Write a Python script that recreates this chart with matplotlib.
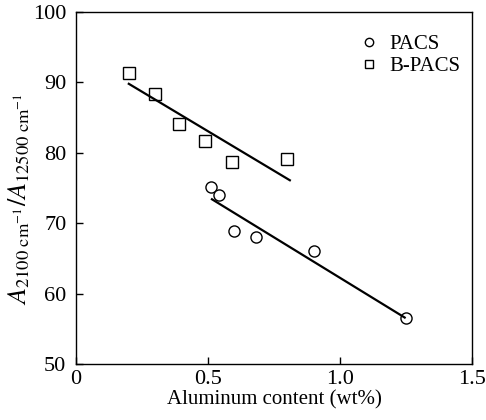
import matplotlib
matplotlib.use("Agg")
import matplotlib.pyplot as plt

plt.rcParams['font.family'] = ['Liberation Serif', 'DejaVu Serif']
plt.rcParams['mathtext.fontset'] = 'stix'

# --- data ---
pacs_x = [0.51, 0.54, 0.60, 0.68, 0.90, 1.25]
pacs_y = [75.1, 74.0, 68.9, 68.0, 66.0, 56.5]
bpacs_x = [0.20, 0.30, 0.39, 0.49, 0.59, 0.80]
bpacs_y = [91.3, 88.4, 84.1, 81.7, 78.7, 79.1]

# fitted trend lines (endpoints)
pacs_fit_x = [0.515, 1.245]
pacs_fit_y = [73.4, 56.6]
bpacs_fit_x = [0.20, 0.81]
bpacs_fit_y = [89.8, 76.1]

xticks = [0, 0.5, 1.0, 1.5]
xticklabels = ['0', '0.5', '1.0', '1.5']
yticks = [50, 60, 70, 80, 90, 100]

fig = plt.figure(figsize=(4.86, 4.2), dpi=100)
ax = fig.add_axes([76 / 486, 1 - 364 / 420, 396 / 486, 352 / 420])

ax.plot(pacs_x, pacs_y, 'o', ms=8, mfc='white', mec='black', mew=1.0, label='PACS')
ax.plot(bpacs_x, bpacs_y, 's', ms=8, mfc='white', mec='black', mew=1.0, label='B-PACS')
ax.plot(pacs_fit_x, pacs_fit_y, 'k-', lw=1.6)
ax.plot(bpacs_fit_x, bpacs_fit_y, 'k-', lw=1.6)

ax.set_xlim(0, 1.5)
ax.set_ylim(50, 100)
ax.set_xticks(xticks)
ax.set_xticklabels(xticklabels)
ax.set_yticks(yticks)
ax.tick_params(direction='in', length=5, width=1.0, labelsize=16)
ax.tick_params(axis='x', pad=4)
ax.tick_params(axis='y', pad=7)
for s in ax.spines.values():
    s.set_linewidth(1.0)

ax.set_xlabel('Aluminum content (wt%)', fontsize=15, labelpad=1)
ax.set_ylabel(r'$A_{2100\ \mathrm{cm}^{-1}}/A_{12500\ \mathrm{cm}^{-1}}$', fontsize=19)
ax.yaxis.set_label_coords(-0.11, 0.47)

ax.legend(loc='upper right', bbox_to_anchor=(1.008, 0.977), frameon=False, fontsize=15,
          markerscale=0.75, handlelength=1.0, handletextpad=0.5, borderaxespad=0.3,
          labelspacing=0.1)

fig.savefig('out.png', dpi=100)
